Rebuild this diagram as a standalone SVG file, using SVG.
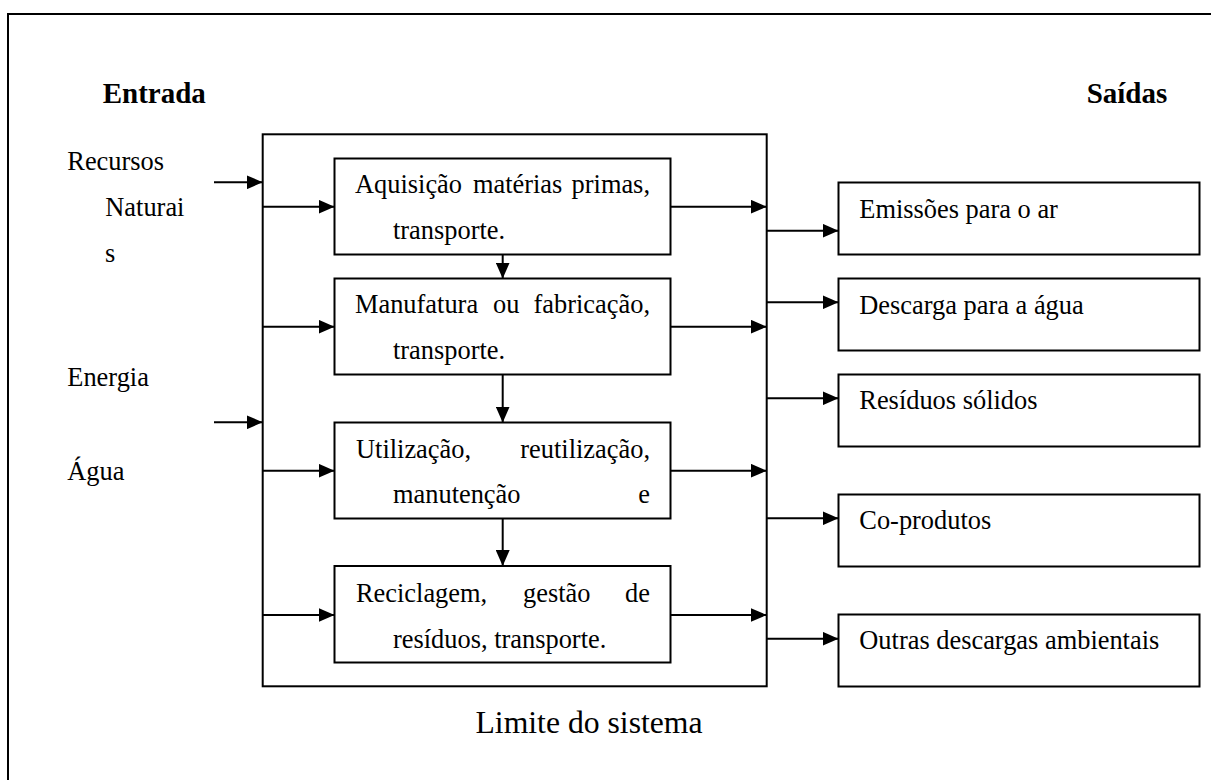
<svg xmlns="http://www.w3.org/2000/svg" width="1211" height="780" viewBox="0 0 1211 780">
<style>
.t{font-family:"Liberation Serif","Times New Roman",serif;font-size:26.4px;fill:#000}
.b{font-family:"Liberation Serif","Times New Roman",serif;font-size:29px;font-weight:bold;fill:#000}
.big{font-family:"Liberation Serif","Times New Roman",serif;font-size:31.7px;fill:#000}
.box{fill:#fff;stroke:#000;stroke-width:2}
.ln{stroke:#000;stroke-width:2;fill:none;marker-end:url(#ah)}
.e{text-anchor:end}
</style>
<defs>
<marker id="ah" viewBox="0 0 16 14" refX="16" refY="7" markerWidth="16" markerHeight="14" markerUnits="userSpaceOnUse" orient="auto">
<path d="M0,0 L16,7 L0,14 z" fill="#000"/>
</marker>
</defs>
<rect width="1211" height="780" fill="#fff"/>
<path d="M8,780 V14 H1211" fill="none" stroke="#000" stroke-width="2"/>

<g id="labels">
<text class="b" x="102.7" y="102.7">Entrada</text>
<text class="b" x="1086.7" y="102.7">Saídas</text>
<text class="t" x="67.3" y="170">Recursos</text>
<text class="t" x="105.3" y="216">Naturai</text>
<text class="t" x="105" y="262">s</text>
<text class="t" x="67.3" y="386">Energia</text>
<text class="t" x="67.3" y="480">Água</text>
<text class="big" x="475.5" y="733.3">Limite do sistema</text>
</g>

<g id="system-boundary">
<rect class="box" x="262.7" y="134.3" width="504" height="552" fill="none" style="fill:none"/>
</g>

<g id="connectors">
<line class="ln" x1="214" y1="182.3" x2="262.7" y2="182.3"/>
<line class="ln" x1="214" y1="422.3" x2="262.7" y2="422.3"/>
<line class="ln" x1="263" y1="206.7" x2="334.5" y2="206.7"/>
<line class="ln" x1="263" y1="326.7" x2="334.5" y2="326.7"/>
<line class="ln" x1="263" y1="470.7" x2="334.5" y2="470.7"/>
<line class="ln" x1="263" y1="615" x2="334.5" y2="615"/>
<line class="ln" x1="670.5" y1="206.7" x2="766.7" y2="206.7"/>
<line class="ln" x1="670.5" y1="326.7" x2="766.7" y2="326.7"/>
<line class="ln" x1="670.5" y1="470.7" x2="766.7" y2="470.7"/>
<line class="ln" x1="670.5" y1="615" x2="766.7" y2="615"/>
<line class="ln" x1="766.7" y1="230.7" x2="838.5" y2="230.7"/>
<line class="ln" x1="766.7" y1="302.3" x2="838.5" y2="302.3"/>
<line class="ln" x1="766.7" y1="398.3" x2="838.5" y2="398.3"/>
<line class="ln" x1="766.7" y1="518.3" x2="838.5" y2="518.3"/>
<line class="ln" x1="766.7" y1="638.7" x2="838.5" y2="638.7"/>
<line class="ln" x1="502.7" y1="254.5" x2="502.7" y2="278.5"/>
<line class="ln" x1="502.7" y1="374.5" x2="502.7" y2="422.5"/>
<line class="ln" x1="502.7" y1="518.5" x2="502.7" y2="566"/>
</g>

<g id="p1">
<rect class="box" x="334.5" y="158.5" width="336" height="96"/>
<text class="t" x="355" y="193.3">Aquisição</text>
<text class="t" x="472.9" y="193.3">matérias</text>
<text class="t e" x="650" y="193.3">primas,</text>
<text class="t" x="393" y="239.3">transporte.</text>
</g>
<g id="p2">
<rect class="box" x="334.5" y="278.5" width="336" height="96"/>
<text class="t" x="355" y="313.3">Manufatura</text>
<text class="t" x="493" y="313.3">ou</text>
<text class="t e" x="650" y="313.3">fabricação,</text>
<text class="t" x="393" y="359.3">transporte.</text>
</g>
<g id="p3">
<rect class="box" x="334.5" y="422.5" width="336" height="96"/>
<text class="t" x="356" y="458.3">Utilização,</text>
<text class="t e" x="650" y="458.3">reutilização,</text>
<text class="t" x="393" y="503.3">manutenção</text>
<text class="t e" x="650" y="503.3">e</text>
</g>
<g id="p4">
<rect class="box" x="334.5" y="566" width="336" height="96.5"/>
<text class="t" x="356" y="601.7">Reciclagem,</text>
<text class="t" x="523" y="601.7">gestão</text>
<text class="t e" x="650" y="601.7">de</text>
<text class="t" x="393" y="648.3">resíduos, transporte.</text>
</g>

<g id="o1">
<rect class="box" x="838.5" y="182.5" width="361" height="72"/>
<text class="t" x="859.3" y="218.3">Emissões para o ar</text>
</g>
<g id="o2">
<rect class="box" x="838.5" y="278.5" width="361" height="72"/>
<text class="t" x="859.3" y="314">Descarga para a água</text>
</g>
<g id="o3">
<rect class="box" x="838.5" y="374.5" width="361" height="72"/>
<text class="t" x="859.3" y="409.3">Resíduos sólidos</text>
</g>
<g id="o4">
<rect class="box" x="838.5" y="494.5" width="361" height="72"/>
<text class="t" x="859.3" y="529.3">Co-produtos</text>
</g>
<g id="o5">
<rect class="box" x="838.5" y="614.5" width="361" height="72"/>
<text class="t" x="859.3" y="649.3">Outras descargas ambientais</text>
</g>
</svg>
